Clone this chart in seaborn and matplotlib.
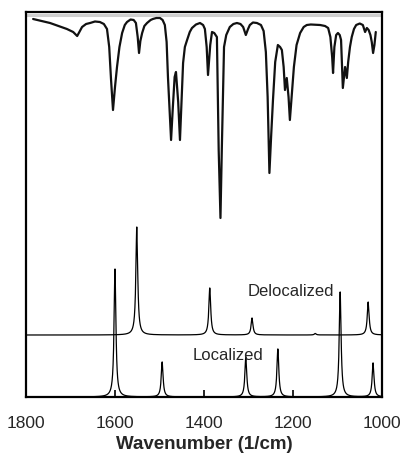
import numpy as np
import pandas as pd
import matplotlib
matplotlib.use("Agg")
import matplotlib.pyplot as plt
import seaborn as sns

# Experimental spectrum (wavenumber, signal in arbitrary units)
exp_wn = [1784, 1765, 1746, 1727, 1708, 1694, 1685, 1679, 1674, 1665, 1656, 1645, 1634, 1625, 1618,
          1613, 1609, 1604.5, 1600, 1595.5, 1590, 1584, 1578, 1573, 1565, 1558, 1553, 1549, 1546,
          1543, 1539, 1534, 1528, 1520, 1515, 1507, 1499, 1493, 1488, 1484, 1481, 1477, 1474, 1470,
          1466, 1463, 1458, 1454, 1450, 1447, 1443, 1438, 1432, 1427, 1418, 1409, 1402, 1398, 1394,
          1391, 1386, 1382, 1377, 1371, 1367, 1363, 1360, 1355, 1350, 1342, 1334, 1326, 1318, 1312,
          1306, 1301, 1297, 1290, 1281, 1272, 1266, 1261, 1257, 1253, 1249, 1245, 1240, 1234, 1229,
          1225, 1221, 1218, 1214, 1210, 1207, 1203, 1198, 1192, 1184, 1176, 1169, 1160, 1139, 1128,
          1121, 1116, 1112, 1110, 1107, 1103, 1099, 1095, 1092, 1088, 1083, 1079, 1076, 1072, 1068,
          1063, 1058, 1050, 1043, 1038, 1034, 1030, 1026, 1023, 1020, 1017, 1014]
exp_val = [378, 376, 374, 371, 368, 365, 361, 366, 370, 373, 374, 375.5, 375, 373, 368,
           350, 318, 287, 310, 330, 350, 364, 372, 375, 377.5, 377, 374, 360, 344,
           356, 364, 371, 374, 377, 378, 379, 379, 377, 372, 355, 320, 285, 257, 290,
           320, 325, 295, 257, 300, 334, 350, 357, 365, 369, 372.5, 374, 372, 368, 350,
           322, 352, 365, 364, 360, 247, 179, 247, 350, 362, 370, 373, 374, 373, 370,
           362, 368, 372, 374.5, 374, 372, 366, 345, 300, 224, 262, 297, 335, 352, 350,
           347, 330, 307, 319, 300, 277, 300, 330, 352, 364, 370, 372, 372.5, 372, 371,
           369, 360, 340, 324, 350, 362, 364, 362, 357, 309, 330, 319, 335, 350, 360,
           368, 372, 373.5, 372, 365, 369, 367, 362, 355, 344, 352, 365]

# Calculated spectra: peak positions (1/cm) and heights
deloc_pos = [1551, 1387, 1292, 1150, 1031]
deloc_hgt = [108, 47, 17, 1.5, 33]
deloc_base = 62
loc_pos = [1600, 1494, 1306, 1234, 1094, 1020]
loc_hgt = [128, 35, 40, 48, 105, 34]
loc_base = 0
hwhm = 2.5

xticks = [1800, 1600, 1400, 1200, 1000]


def broaden(grid, pos, hgt, base):
    y = np.full_like(grid, base, dtype=float)
    for p, h in zip(pos, hgt):
        y += h * hwhm**2 / ((grid - p) ** 2 + hwhm**2)
    return y


grid = np.linspace(1000, 1800, 8001)
df_exp = pd.DataFrame({"wn": exp_wn, "val": exp_val})
df_del = pd.DataFrame({"wn": grid, "val": broaden(grid, deloc_pos, deloc_hgt, deloc_base)})
df_loc = pd.DataFrame({"wn": grid, "val": broaden(grid, loc_pos, loc_hgt, loc_base)})

sns.set_theme(style="white")
plt.rcParams["font.family"] = ["Liberation Sans", "DejaVu Sans"]

fig = plt.figure(figsize=(4.03, 4.54), dpi=100)
ax = fig.add_axes([26 / 403, 1 - 397 / 454, 356 / 403, 385 / 454])

ax.axhline(382, color="#cfcfcf", lw=2.2, zorder=1)
sns.lineplot(data=df_exp, x="wn", y="val", ax=ax, color="#111111", lw=1.6,
             estimator=None, sort=False, zorder=3)
sns.lineplot(data=df_del, x="wn", y="val", ax=ax, color="black", lw=0.9,
             estimator=None, zorder=3)
sns.lineplot(data=df_loc, x="wn", y="val", ax=ax, color="black", lw=0.9,
             estimator=None, zorder=3)

ax.text(1204, 105, "Delocalized", ha="center", va="center", fontsize=12)
ax.text(1345, 41, "Localized", ha="center", va="center", fontsize=12)

ax.set_xlim(1800, 1000)
ax.set_ylim(0, 385)
ax.set_xticks(xticks)
ax.set_xticklabels([str(t) for t in xticks])
ax.set_yticks([])
ax.tick_params(axis="x", direction="in", length=5, width=1.2, labelsize=12.5,
               pad=14, bottom=True, color="black")
ax.set_xlabel("Wavenumber (1/cm)", fontsize=13.5, fontweight="bold", labelpad=3)
ax.set_ylabel("")
for s in ax.spines.values():
    s.set_color("black")
    s.set_linewidth(1.6)

fig.savefig("out.png", dpi=100)
